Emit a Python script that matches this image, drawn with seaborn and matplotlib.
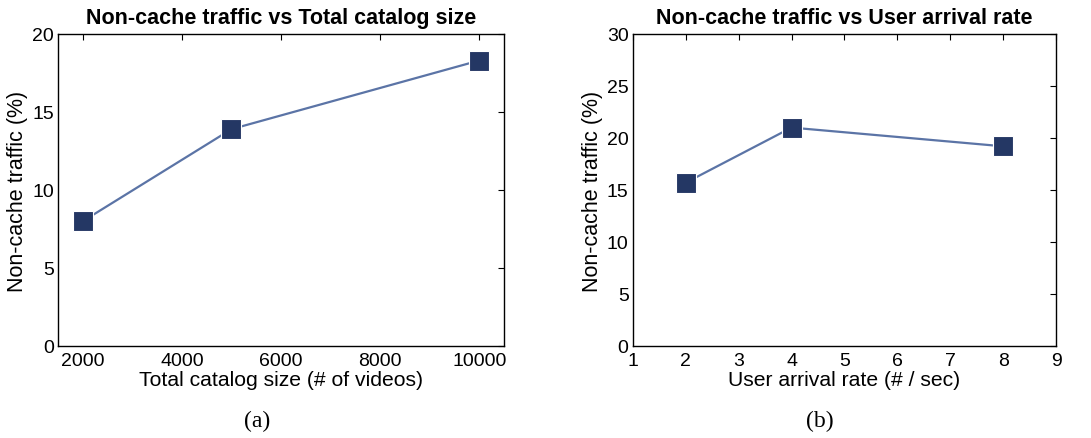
import matplotlib
matplotlib.use("Agg")
import matplotlib.pyplot as plt
import seaborn as sns
import pandas as pd

sns.set_theme(style="white")
plt.rcParams["font.family"] = ["Liberation Sans", "DejaVu Sans"]
plt.rcParams["text.color"] = "black"
plt.rcParams["axes.labelcolor"] = "black"
plt.rcParams["xtick.color"] = "black"
plt.rcParams["ytick.color"] = "black"

# Panel (a): non-cache traffic against catalog size
catalog_size = [2000, 5000, 10000]
traffic_catalog = [8.0, 13.9, 18.3]

# Panel (b): non-cache traffic against user arrival rate
arrival_rate = [2, 4, 8]
traffic_arrival = [15.7, 21.0, 19.2]

LINE = "#5b74a6"
MARK = "#243764"

fig = plt.figure(figsize=(10.91, 4.39), dpi=100)
ax1 = fig.add_axes([0.0532, 0.2096, 0.4088, 0.7107])
ax2 = fig.add_axes([0.5800, 0.2096, 0.3880, 0.7107])

df_a = pd.DataFrame({"x": catalog_size, "y": traffic_catalog})
df_b = pd.DataFrame({"x": arrival_rate, "y": traffic_arrival})

for ax, df in ((ax1, df_a), (ax2, df_b)):
    sns.lineplot(data=df, x="x", y="y", ax=ax, color=LINE, linewidth=1.6,
                 marker="s", markersize=14, markerfacecolor=MARK,
                 markeredgecolor="white", markeredgewidth=0.8)

ax1.set_xlim(1500, 10500)
ax1.set_ylim(0, 20)
ax1.set_xticks([2000, 4000, 6000, 8000, 10000])
ax1.set_yticks([0, 5, 10, 15, 20])
ax1.set_title("Non-cache traffic vs Total catalog size", fontsize=15.5,
              fontweight="bold", pad=8)
ax1.set_xlabel("Total catalog size (# of videos)", fontsize=15.2, labelpad=1)
ax1.set_ylabel("Non-cache traffic (%)", fontsize=15.5, labelpad=3)

ax2.set_xlim(1, 9)
ax2.set_ylim(0, 30)
ax2.set_xticks(range(1, 10))
ax2.set_yticks([0, 5, 10, 15, 20, 25, 30])
ax2.set_title("Non-cache traffic vs User arrival rate", fontsize=15.5,
              fontweight="bold", pad=8)
ax2.set_xlabel("User arrival rate (# / sec)", fontsize=15.2, labelpad=1)
ax2.set_ylabel("Non-cache traffic (%)", fontsize=15.5, labelpad=3)

for ax in (ax1, ax2):
    for s in ax.spines.values():
        s.set_color("black")
        s.set_linewidth(1.0)
    ax.tick_params(direction="in", length=4, width=0.8, top=True, right=True,
                   labelsize=14, colors="black", pad=3)
    ax.tick_params(axis="x", pad=4)

fig.text(0.2355, 0.039, "(a)", fontsize=17, family=["Liberation Serif"],
         ha="center", va="center")
fig.text(0.7516, 0.039, "(b)", fontsize=17, family=["Liberation Serif"],
         ha="center", va="center")

fig.savefig("out.png", dpi=100)
